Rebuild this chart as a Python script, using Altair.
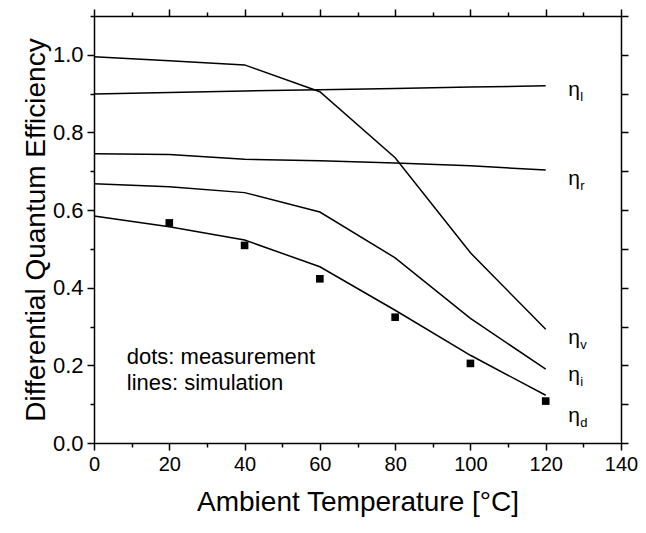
import altair as alt
import pandas as pd

temps = [0, 20, 40, 60, 80, 100, 120]
eta_v = [0.995, 0.985, 0.974, 0.905, 0.735, 0.49, 0.293]
eta_l = [0.899, 0.903, 0.907, 0.910, 0.913, 0.917, 0.920]
eta_r = [0.745, 0.743, 0.731, 0.727, 0.721, 0.714, 0.703]
eta_i = [0.668, 0.660, 0.645, 0.595, 0.477, 0.321, 0.190]
eta_d = [0.585, 0.557, 0.523, 0.454, 0.342, 0.226, 0.123]

meas_t = [20, 40, 60, 80, 100, 120]
meas_y = [0.567, 0.509, 0.423, 0.324, 0.205, 0.108]

label_names = ["l", "r", "v", "i", "d"]
label_x = [126, 126, 126, 126, 126]
label_y = [0.91, 0.68, 0.27, 0.175, 0.07]

notes = ["dots: measurement", "lines: simulation"]
note_x = [8.7, 8.7]
note_y = [0.222, 0.155]

series = {"v": eta_v, "l": eta_l, "r": eta_r, "i": eta_i, "d": eta_d}
rows = []
for k, vals in series.items():
    for t, v in zip(temps, vals):
        rows.append({"series": k, "T": t, "eta": v})
lines_df = pd.DataFrame(rows)
meas_df = pd.DataFrame({"T": meas_t, "eta": meas_y})
lab_df = pd.DataFrame({"sub": label_names, "T": label_x, "eta": label_y, "eta_sym": ["η"] * 5})
note_df = pd.DataFrame({"txt": notes, "T": note_x, "eta": note_y})

FONT = "Liberation Sans"
xscale = alt.Scale(domain=[0, 140], nice=False, zero=False)
yscale = alt.Scale(domain=[0, 1.1], nice=False, zero=False)
xvals = list(range(0, 141, 10))
yvals = [round(i * 0.1, 1) for i in range(0, 12)]

x_main = alt.Axis(
    values=xvals,
    labelExpr="datum.value % 20 == 0 ? datum.label : ''",
    tickSize={"condition": {"test": "datum.value % 20 == 0", "value": 7}, "value": 4},
    labelFont=FONT, labelFontSize=20, labelColor="black", labelPadding=4,
    labelFlush=False, labelOverlap=False,
    title="Ambient Temperature [°C]", titleFont=FONT, titleFontSize=28,
    titleFontWeight="normal", titleColor="black", titlePadding=14,
    domainColor="black", domainWidth=1.5, tickColor="black", tickWidth=1.5,
    grid=False, orient="bottom",
)
y_main = alt.Axis(
    values=yvals, format=".1f",
    labelExpr="round(datum.value*10) % 2 == 0 ? format(datum.value, '.1f') : ''",
    tickSize={"condition": {"test": "round(datum.value*10) % 2 == 0", "value": 7}, "value": 4},
    labelFont=FONT, labelFontSize=22, labelColor="black", labelPadding=4,
    labelFlush=False, labelOverlap=False,
    title="Differential Quantum Efficiency", titleFont=FONT, titleFontSize=28,
    titleFontWeight="normal", titleColor="black", titlePadding=2,
    domainColor="black", domainWidth=1.5, tickColor="black", tickWidth=1.5,
    grid=False, orient="left",
)
x_top = alt.Axis(
    values=xvals, labels=False, title=None, orient="top",
    tickSize={"condition": {"test": "datum.value % 20 == 0", "value": 7}, "value": 4},
    domainColor="black", domainWidth=1.5, tickColor="black", tickWidth=1.5, grid=False,
)
y_right = alt.Axis(
    values=yvals, labels=False, title=None, orient="right", tickSize=7,
    domainColor="black", domainWidth=1.5, tickColor="black", tickWidth=1.5, grid=False,
)

lines = alt.Chart(lines_df).mark_line(color="black", strokeWidth=1.5).encode(
    x=alt.X("T:Q", scale=xscale, axis=x_main),
    y=alt.Y("eta:Q", scale=yscale, axis=y_main),
    detail="series:N",
)
mirror = alt.Chart(lines_df).mark_line(color="black", strokeWidth=1.5, opacity=0).encode(
    x=alt.X("T:Q", scale=xscale, axis=x_top),
    y=alt.Y("eta:Q", scale=yscale, axis=y_right),
    detail="series:N",
)
points = alt.Chart(meas_df).mark_square(color="black", size=58, opacity=1).encode(
    x=alt.X("T:Q", scale=xscale, axis=None),
    y=alt.Y("eta:Q", scale=yscale, axis=None),
)
eta_txt = alt.Chart(lab_df).mark_text(font=FONT, fontSize=21, color="black", align="left", baseline="middle").encode(
    x=alt.X("T:Q", scale=xscale, axis=None),
    y=alt.Y("eta:Q", scale=yscale, axis=None),
    text="eta_sym:N",
)
sub_txt = alt.Chart(lab_df).mark_text(font=FONT, fontSize=13, color="black", align="left", baseline="middle", dx=12, dy=7).encode(
    x=alt.X("T:Q", scale=xscale, axis=None),
    y=alt.Y("eta:Q", scale=yscale, axis=None),
    text="sub:N",
)
note_txt = alt.Chart(note_df).mark_text(font=FONT, fontSize=22, color="black", align="left", baseline="middle").encode(
    x=alt.X("T:Q", scale=xscale, axis=None),
    y=alt.Y("eta:Q", scale=yscale, axis=None),
    text="txt:N",
)

chart = alt.layer(lines, mirror, points, eta_txt, sub_txt, note_txt).resolve_axis(
    x="independent", y="independent"
).properties(
    width=527, height=427,
    autosize=alt.AutoSizeParams(type="none"),
    padding={"left": 86, "top": 8, "right": 17, "bottom": 74},
).configure_view(stroke=None).configure(background="white")

chart.save("out.html", embed_options={"renderer": "svg", "actions": False})
